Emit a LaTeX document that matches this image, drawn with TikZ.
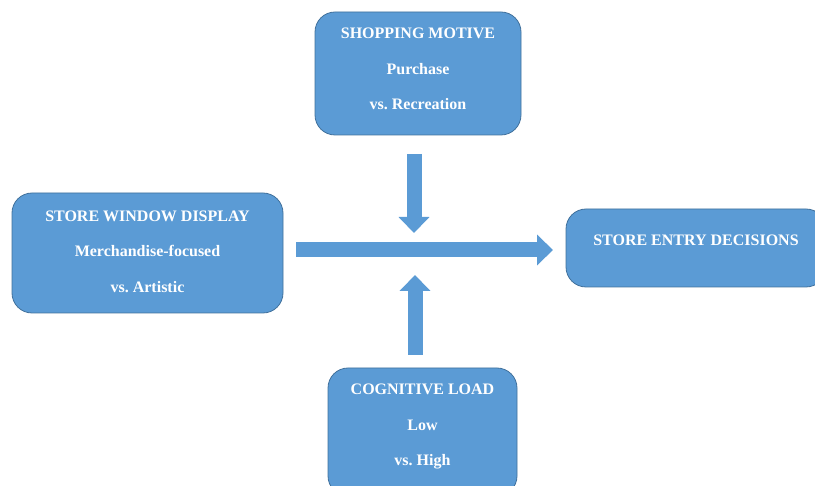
\documentclass[tikz,border=0pt]{standalone}
\usepackage{fontspec}
\setmainfont{Liberation Serif}
\usetikzlibrary{arrows.meta}
\definecolor{boxblue}{HTML}{5B9BD5}
\definecolor{boxline}{HTML}{41719C}
\frenchspacing
\tikzset{
  factor/.style={draw=boxline, line width=0.8pt, fill=boxblue, rounded corners=20pt,
    text=white, align=center, font=\fontsize{16}{35.5}\selectfont\bfseries},
  bigarrow/.style={boxblue, line width=15pt, -{Triangle[width=30pt,length=16pt]}}
}
\begin{document}
\begin{tikzpicture}[x=1pt, y=-1pt]
\useasboundingbox (0,0) rectangle (815,486);
% boxes
\node[factor, minimum width=206pt, minimum height=123pt, text depth=9pt] (motive) at (418,73.5)
  {SHOPPING MOTIVE\\Purchase\\vs. Recreation};
\node[factor, minimum width=271pt, minimum height=120pt, text depth=3pt] (display) at (147.5,253)
  {STORE WINDOW DISPLAY\\Merchandise-focused\\vs. Artistic};
\node[factor, minimum width=260pt, minimum height=78pt, text depth=15pt] (entry) at (696,248)
  {STORE ENTRY DECISIONS};
\node[factor, minimum width=189pt, minimum height=128pt, text depth=14pt] (load) at (422.5,432)
  {COGNITIVE LOAD\\Low\\vs. High};
% arrows
\coordinate (hs) at (296,250);
\coordinate (he) at (553,250);
\coordinate (ds) at (414,154);
\coordinate (de) at (414,233);
\coordinate (us) at (415,355);
\coordinate (ue) at (415,275);
\draw[bigarrow] (hs) -- (he);
\draw[bigarrow] (ds) -- (de);
\draw[bigarrow] (us) -- (ue);
\end{tikzpicture}
\end{document}
